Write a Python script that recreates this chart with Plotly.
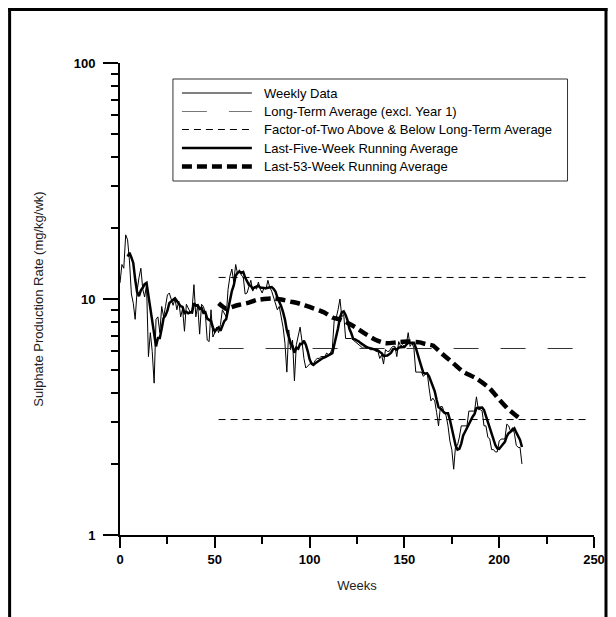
import plotly.graph_objects as go
import pandas as pd

# ---------------- data ----------------
weeks = list(range(0, 213))
weekly = [
    11.7, 14.0, 13.5, 18.7, 17.8, 14.5, 10.5, 9.6, 8.2, 10.8,
    12.3, 13.5, 11.0, 10.2, 11.5, 5.7, 7.2, 6.0, 4.4, 8.2,
    8.4, 7.2, 9.3, 8.4, 9.3, 10.4, 10.6, 9.9, 9.4, 10.0,
    9.0, 9.8, 8.4, 9.1, 7.3, 9.5, 9.2, 8.8, 9.0, 11.5,
    8.4, 9.4, 7.1, 9.5, 9.3, 8.7, 6.7, 6.6, 9.0, 6.9,
    7.2, 7.6, 7.2, 7.8, 9.0, 8.7, 8.4, 11.0, 12.5, 13.4,
    11.8, 14.0, 12.8, 13.3, 12.6, 12.4, 10.5, 10.6, 11.3, 12.0,
    10.8, 11.3, 11.0, 11.8, 11.0, 10.6, 11.2, 11.0, 12.0, 11.2,
    10.8, 10.2, 9.6, 9.0, 9.3, 8.5, 7.6, 6.5, 4.9, 7.4,
    6.1, 6.7, 4.5, 6.4, 7.1, 7.6, 6.6, 5.6, 5.1, 5.2,
    5.3, 5.4, 5.3, 5.5, 5.6, 5.6, 5.7, 5.7, 5.7, 5.9,
    5.8, 5.9, 6.2, 8.2, 8.3, 9.0, 10.0, 8.4, 8.6, 6.8,
    6.8, 6.8, 6.8, 6.7, 6.6, 6.5, 6.4, 6.3, 6.2, 6.2,
    6.2, 6.2, 6.1, 6.1, 6.1, 6.0, 6.0, 5.6, 5.8, 5.3,
    6.1, 6.0, 6.0, 6.2, 6.3, 6.3, 5.7, 6.6, 6.3, 6.4,
    6.3, 6.4, 7.2, 6.3, 6.5, 6.2, 4.9, 4.9, 4.9, 4.9,
    4.7, 4.8, 4.9, 4.2, 3.7, 3.8, 3.7, 3.3, 2.9, 3.5,
    3.5, 3.3, 3.2, 2.9, 2.5, 2.3, 1.9, 2.4, 2.4, 2.6,
    2.9, 2.9, 2.9, 2.9, 3.35, 3.35, 3.35, 3.35, 3.85, 3.4,
    3.4, 3.35, 2.9, 2.9, 2.6, 2.55, 2.3, 2.3, 2.25, 2.25,
    2.5, 2.55, 2.55, 2.55, 2.95, 2.9, 2.75, 2.85, 2.7, 2.4,
    2.35, 2.35, 2.0,
]
# last-five-week running average of the weekly data
five_week_avg = pd.Series(weekly).rolling(5).mean().tolist()

weeks_53 = [52, 56, 59, 63, 68, 72, 76, 80, 85, 90, 95, 100, 105, 108, 112, 117,
            124, 129, 135, 140, 146, 152, 158, 161, 165, 168, 170, 174, 178, 181,
            188, 195, 200, 205, 209, 212]
avg_53 = [9.6, 9.1, 9.25, 9.45, 9.65, 9.9, 10.0, 10.05, 9.95, 9.75, 9.55, 9.25,
          8.95, 8.75, 8.35, 8.15, 7.6, 7.15, 6.7, 6.5, 6.55, 6.6, 6.55, 6.45,
          6.35, 6.05, 5.85, 5.5, 5.15, 4.92, 4.6, 4.18, 3.75, 3.4, 3.2, 3.07]

long_term_avg = 6.17
ref_weeks = [52, 248]

legend_labels = [
    "Weekly Data",
    "Long-Term Average (excl. Year 1)",
    "Factor-of-Two Above & Below Long-Term Average",
    "Last-Five-Week Running Average",
    "Last-53-Week Running Average",
]

x_ticks = [0, 50, 100, 150, 200, 250]
x_minor = [25, 75, 125, 175, 225]
y_ticks = [1, 10, 100]
y_minor = [2, 3, 4, 5, 6, 7, 8, 9, 20, 30, 40, 50, 60, 70, 80, 90]

# ---------------- layout geometry ----------------
W, H = 616, 617
# plot area in page pixels: x 120..594.5, y 63..535
PX0, PX1, PY0, PY1 = 120, 594.5, 63, 535
ML, MT = PX0, PY0
MR = W - PX1
MB = H - PY1


def px(x):
    return (x - PX0) / (PX1 - PX0)


def py(y):
    return (PY1 - y) / (PY1 - PY0)


FONT = "Arial, Liberation Sans, sans-serif"
LTA_DASH = "25px,22px"
F2_DASH = "7px,5px"
RA53_DASH = "10px,5px"

fig = go.Figure()
fig.add_trace(go.Scatter(x=weeks, y=weekly, mode="lines",
                         line=dict(color="black", width=1), name=legend_labels[0],
                         showlegend=False))
fig.add_trace(go.Scatter(x=ref_weeks, y=[long_term_avg] * 2, mode="lines",
                         line=dict(color="#333333", width=1, dash=LTA_DASH),
                         name=legend_labels[1], showlegend=False))
fig.add_trace(go.Scatter(x=ref_weeks, y=[long_term_avg * 2] * 2, mode="lines",
                         line=dict(color="black", width=1, dash=F2_DASH),
                         name=legend_labels[2], showlegend=False))
fig.add_trace(go.Scatter(x=ref_weeks, y=[long_term_avg / 2] * 2, mode="lines",
                         line=dict(color="black", width=1, dash=F2_DASH),
                         name=legend_labels[2], showlegend=False))
fig.add_trace(go.Scatter(x=weeks, y=five_week_avg, mode="lines",
                         line=dict(color="black", width=2.5), name=legend_labels[3],
                         showlegend=False))
fig.add_trace(go.Scatter(x=weeks_53, y=avg_53, mode="lines",
                         line=dict(color="black", width=4.5, dash=RA53_DASH, shape="spline",
                                   smoothing=0.6),
                         name=legend_labels[4], showlegend=False))

axis_common = dict(showgrid=False, zeroline=False, showline=True, linecolor="black",
                   linewidth=2, ticks="outside", tickcolor="black", tickwidth=2,
                   automargin=False,
                   tickfont=dict(family=FONT, size=13, color="black", weight="bold"),
                   title_font=dict(family=FONT, size=13, color="#222222"))

fig.update_xaxes(range=[0, 250], tickmode="array", tickvals=x_ticks, ticklen=11,
                 minor=dict(tickmode="array", tickvals=x_minor, ticks="outside", ticklen=7,
                            tickwidth=2, tickcolor="black"),
                 title_text="Weeks", title_standoff=15, **axis_common)
fig.update_yaxes(type="log", range=[0, 2], tickmode="array", tickvals=y_ticks,
                 ticktext=[str(v) for v in y_ticks], ticklen=15, ticklabelstandoff=5,
                 minor=dict(tickmode="array", tickvals=y_minor, ticks="outside", ticklen=7,
                            tickwidth=2, tickcolor="black"),
                 title_text="Sulphate Production Rate (mg/kg/wk)", title_standoff=27,
                 **axis_common)

shapes = []
annotations = []
# outer frame (left, top, right edges; its bottom lies below the window)
frame = dict(color="black", width=3)
shapes.append(dict(type="line", xref="paper", yref="paper", x0=px(9.5), x1=px(9.5),
                   y0=py(8), y1=py(H), line=frame))
shapes.append(dict(type="line", xref="paper", yref="paper", x0=px(8), x1=px(608),
                   y0=py(9.5), y1=py(9.5), line=frame))
shapes.append(dict(type="line", xref="paper", yref="paper", x0=px(606.5), x1=px(606.5),
                   y0=py(8), y1=py(H), line=frame))
# legend box
shapes.append(dict(type="rect", xref="paper", yref="paper", x0=px(173), x1=px(568),
                   y0=py(181), y1=py(79), line=dict(color="#333333", width=1),
                   fillcolor="white", layer="above"))
row_y = [93, 111.5, 129.5, 148, 166.5]
styles = [
    dict(color="black", width=1),
    dict(color="#777777", width=1, dash=LTA_DASH),
    dict(color="black", width=1, dash=F2_DASH),
    dict(color="black", width=2.5),
    dict(color="black", width=4.5, dash=RA53_DASH),
]
for yy, st, lab in zip(row_y, styles, legend_labels):
    shapes.append(dict(type="line", xref="paper", yref="paper", x0=px(182), x1=px(252),
                       y0=py(yy), y1=py(yy), line=st, layer="above"))
    annotations.append(dict(xref="paper", yref="paper", x=px(262), y=py(yy), text=lab,
                            showarrow=False, xanchor="left", yanchor="middle",
                            font=dict(family=FONT, size=13, color="black")))

fig.update_layout(width=W, height=H, margin=dict(l=ML, r=MR, t=MT, b=MB),
                  paper_bgcolor="white", plot_bgcolor="white", showlegend=False,
                  shapes=shapes, annotations=annotations)

# the figure fills the whole window: drop the page's default body margin
fig.write_html("out.html", config={"displayModeBar": False},
               post_script="document.body.style.margin = '0';")
